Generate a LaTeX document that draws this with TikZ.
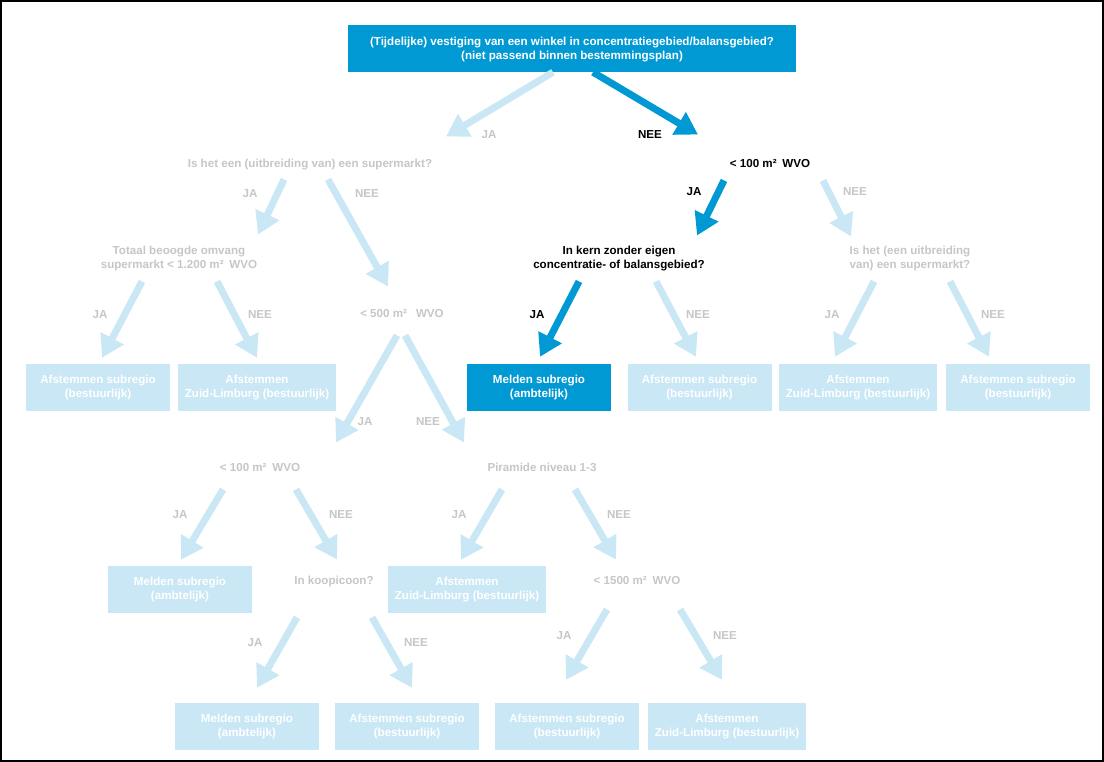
\documentclass[tikz,border=0pt]{standalone}
\usepackage{fontspec}
\setmainfont{Liberation Sans}
\usetikzlibrary{arrows.meta}
\definecolor{donkerblauw}{RGB}{0,153,212}
\definecolor{lichtblauw}{RGB}{201,231,245}
\definecolor{grijs}{RGB}{198,198,198}
\tikzset{
  vraag/.style={text=grijs, align=center, inner sep=0pt, text height=10pt, text depth=0.5pt},
  actief/.style={text=black},
  blok/.style={fill=lichtblauw, text=white, align=center, inner sep=0pt,
    minimum height=47pt, minimum width=144pt},
  blokdonker/.style={blok, fill=donkerblauw},
  breed/.style={minimum width=158pt},
  antwoord/.style={text=grijs, inner sep=0pt, yshift=-2pt},
  pijl/.style={draw=lichtblauw, line width=7pt, -{Triangle[length=22pt,width=25pt]}},
  pijldonker/.style={pijl, draw=donkerblauw},
}
\begin{document}
\begin{tikzpicture}[x=1pt, y=-1pt, font=\fontsize{11.6}{13.8}\selectfont\bfseries]
  % Page size and the thin frame round it.
  \useasboundingbox (0,0) rectangle (1104,762);
  \draw[line width=2pt] (1,1) rectangle (1103,761);

  % Start question.
  \node[blokdonker, minimum width=448pt, text depth=1pt] (q0) at (572,48.5)
    {(Tijdelijke) vestiging van een winkel in concentratiegebied/balansgebied?\\(niet passend binnen bestemmingsplan)};

  % Questions.
  \node[vraag] (q1) at (310,163) {Is het een (uitbreiding van) een supermarkt?};
  \node[vraag, actief] (q2) at (770,163) {<\ 100 m²\enspace WVO};
  \node[vraag] (q3) at (179,263.5) {Totaal beoogde omvang\\supermarkt <\ 1.200 m²\enspace WVO};
  \node[vraag] (q4) at (402,313) {<\ 500 m²\enspace\ WVO};
  \node[vraag, actief] (q5) at (619,263.5) {In kern zonder eigen\\concentratie- of balansgebied?};
  \node[vraag] (q6) at (910,263.5) {Is het (een uitbreiding\\van) een supermarkt?};
  \node[vraag] (q7) at (260,467) {<\ 100 m²\enspace WVO};
  \node[vraag] (q8) at (542,467) {Piramide niveau 1-3};
  \node[vraag] (q9) at (334,580) {In koopicoon?};
  \node[vraag] (q10) at (637,580) {<\ 1500 m²\enspace WVO};

  % Outcomes.
  \node[blok] (b1) at (98,387.5) {Afstemmen subregio\\(bestuurlijk)};
  \node[blok, breed] (b2) at (257,387.5) {Afstemmen\\Zuid-Limburg (bestuurlijk)};
  \node[blokdonker] (b3) at (539,387.5) {Melden subregio\\(ambtelijk)};
  \node[blok] (b4) at (699.5,387.5) {Afstemmen subregio\\(bestuurlijk)};
  \node[blok, breed] (b5) at (858,387.5) {Afstemmen\\Zuid-Limburg (bestuurlijk)};
  \node[blok] (b6) at (1018,387.5) {Afstemmen subregio\\(bestuurlijk)};
  \node[blok] (b7) at (180,589.5) {Melden subregio\\(ambtelijk)};
  \node[blok, breed] (b8) at (467,589.5) {Afstemmen\\Zuid-Limburg (bestuurlijk)};
  \node[blok] (b9) at (247,726.5) {Melden subregio\\(ambtelijk)};
  \node[blok] (b10) at (407,726.5) {Afstemmen subregio\\(bestuurlijk)};
  \node[blok] (b11) at (567,726.5) {Afstemmen subregio\\(bestuurlijk)};
  \node[blok, breed] (b12) at (727,726.5) {Afstemmen\\Zuid-Limburg (bestuurlijk)};

  % Arrows, the chosen path in dark blue.
  \draw[pijl] ([shift={(-19,0)}]q0.south) -- ([shift={(136,-21)}]q1.north);
  \draw[pijldonker] ([shift={(21,0)}]q0.south) -- ([shift={(-72,-23)}]q2.north);
  \draw[pijl] ([shift={(-26,11)}]q1.south) -- ([shift={(79,-23.5)}]q3.north);
  \draw[pijl] ([shift={(18,11)}]q1.south) -- ([shift={(-14,-21)}]q4.north);
  \draw[pijl] ([shift={(-37,12.5)}]q3.south) -- ([shift={(4,-6)}]b1.north);
  \draw[pijl] ([shift={(38,12.5)}]q3.south) -- ([shift={(0,-6)}]b2.north);
  \draw[pijl] ([shift={(-5,17)}]q4.south) -- ([shift={(76,-19)}]q7.north);
  \draw[pijl] ([shift={(3,17)}]q4.south) -- ([shift={(-78,-19)}]q8.north);
  \draw[pijldonker] ([shift={(-46,12)}]q2.south) -- ([shift={(78,-22.5)}]q5.north);
  \draw[pijl] ([shift={(53,12)}]q2.south) -- ([shift={(-59,-21.5)}]q6.north);
  \draw[pijldonker] ([shift={(-40,12.5)}]q5.south) -- ([shift={(1,-7)}]b3.north);
  \draw[pijl] ([shift={(37,12.5)}]q5.south) -- ([shift={(-3.5,-7)}]b4.north);
  \draw[pijl] ([shift={(-36,12.5)}]q6.south) -- ([shift={(-23,-7)}]b5.north);
  \draw[pijl] ([shift={(40,12.5)}]q6.south) -- ([shift={(-29,-7)}]b6.north);
  \draw[pijl] ([shift={(-37,17)}]q7.south) -- ([shift={(1,-6)}]b7.north);
  \draw[pijl] ([shift={(36,17)}]q7.south) -- ([shift={(3,-15)}]q9.north);
  \draw[pijl] ([shift={(-40,17)}]q8.south) -- ([shift={(-6,-6)}]b8.north);
  \draw[pijl] ([shift={(33,17)}]q8.south) -- ([shift={(-21,-15)}]q10.north);
  \draw[pijl] ([shift={(-37,32)}]q9.south) -- ([shift={(10,-15)}]b9.north);
  \draw[pijl] ([shift={(38,32)}]q9.south) -- ([shift={(5,-15)}]b10.north);
  \draw[pijl] ([shift={(-30,24)}]q10.south) -- ([shift={(-1,-23)}]b11.north);
  \draw[pijl] ([shift={(43,24)}]q10.south) -- ([shift={(-5,-23)}]b12.north);

  % Answers next to the arrows.
  \node[antwoord] (ja0) at (489,133) {JA};
  \node[antwoord, actief] (nee0) at (650,133) {NEE};
  \node[antwoord] (ja1) at (250,192) {JA};
  \node[antwoord] (nee1) at (367,192) {NEE};
  \node[antwoord] (ja2) at (100,313) {JA};
  \node[antwoord] (nee2) at (260,313) {NEE};
  \node[antwoord] (ja3) at (365,420) {JA};
  \node[antwoord] (nee3) at (428,420) {NEE};
  \node[antwoord, actief] (ja4) at (694,190) {JA};
  \node[antwoord] (nee4) at (855,190) {NEE};
  \node[antwoord, actief] (ja5) at (537,313) {JA};
  \node[antwoord] (nee5) at (698,313) {NEE};
  \node[antwoord] (ja6) at (832,313) {JA};
  \node[antwoord] (nee6) at (993,313) {NEE};
  \node[antwoord] (ja7) at (180,513) {JA};
  \node[antwoord] (nee7) at (341,513) {NEE};
  \node[antwoord] (ja8) at (459,513) {JA};
  \node[antwoord] (nee8) at (619,513) {NEE};
  \node[antwoord] (ja9) at (255,641) {JA};
  \node[antwoord] (nee9) at (416,641) {NEE};
  \node[antwoord] (ja10) at (564,634) {JA};
  \node[antwoord] (nee10) at (725,634) {NEE};
\end{tikzpicture}
\end{document}
